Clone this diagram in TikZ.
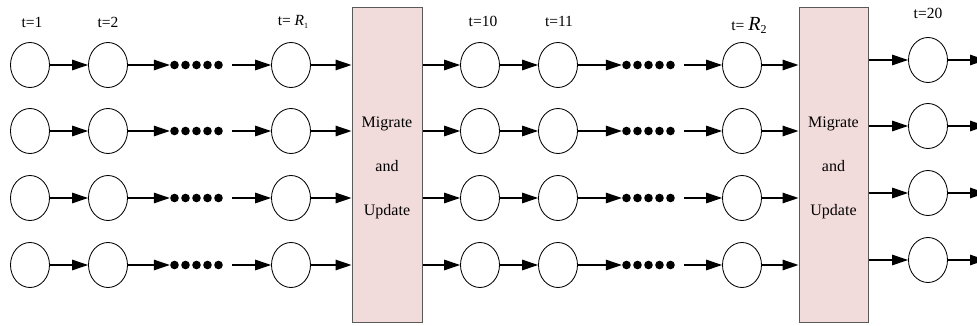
\documentclass[tikz,border=0pt]{standalone}
\usepackage{fontspec}
\setmainfont{Liberation Serif}
\usetikzlibrary{shapes.geometric,arrows.meta}
\definecolor{boxfill}{HTML}{F2DCDB}
\definecolor{boxline}{HTML}{595959}
\begin{document}
\begin{tikzpicture}[x=1pt,y=-1pt,
  state/.style={ellipse,draw,line width=0.85pt,minimum width=39pt,minimum height=45pt,inner sep=0pt},
  arr/.style={line width=1.3pt,-{Triangle[length=16pt,width=10.5pt]}},
  dotrow/.style={minimum width=56pt,minimum height=10pt,inner sep=0pt,
    path picture={\foreach \k in {0,...,4}
      \fill (path picture bounding box.west) ++(4.5pt+\k*11pt,0pt) circle (4.3pt);}},
  mubox/.style={draw=boxline,fill=boxfill,line width=1pt,minimum width=70pt,minimum height=314pt,inner sep=0pt},
  boxtext/.style={align=center,inner sep=0pt,font=\fontsize{16}{44}\selectfont},
  tlab/.style={font=\fontsize{15.5}{18}\selectfont,inner sep=0pt}]
\useasboundingbox (0,0) rectangle (977,326);

% migrate-and-update boxes
\node[mubox] (box1) at (387,165) {};
\node[mubox,minimum width=69pt] (box2) at (833.5,165) {};
\node[boxtext,yshift=-3pt] (u1) at (box1.center) {Migrate\\and\\Update};
\node[boxtext,yshift=-3pt] (u2) at (box2.center) {Migrate\\and\\Update};

% four parallel chains
\foreach \r/\y in {1/65,2/131,3/198,4/265}{
  \node[state] (a\r) at (30,\y) {};
  \node[state] (b\r) at (108,\y) {};
  \node[dotrow] (d\r) at (198,\y) {};
  \node[state] (e\r) at (291,\y) {};
  \node[state] (f\r) at (480,\y) {};
  \node[state] (g\r) at (558,\y) {};
  \node[dotrow] (h\r) at (650,\y) {};
  \node[state] (k\r) at (742,\y) {};
  \draw[arr] (a\r) -- (b\r);
  \draw[arr] (b\r) -- (d\r.west);
  \draw[arr,shorten <=6pt] (d\r.east) -- (e\r);
  \draw[arr] (e\r) -- (e\r -| box1.west);
  \draw[arr] (f\r -| box1.east) -- (f\r);
  \draw[arr] (f\r) -- (g\r);
  \draw[arr] (g\r) -- (h\r.west);
  \draw[arr,shorten <=6pt] (h\r.east) -- (k\r);
  \draw[arr] (k\r) -- (k\r -| box2.west);
}
\foreach \r/\y in {1/60,2/126,3/193,4/260}{
  \node[state] (m\r) at (928,\y) {};
  \coordinate (o\r) at (986,\y);
  \draw[arr] (m\r -| box2.east) -- (m\r);
  \draw[arr] (m\r) -- (o\r);
}

% time labels
\node[tlab] at (32,22) {t=1};
\node[tlab] at (108,22) {t=2};
\node[tlab] at (293,22) {t= \textit{R}\raisebox{-2.5pt}{\fontsize{8}{9}\selectfont 1}};
\node[tlab] at (483,21) {t=10};
\node[tlab] at (559,21) {t=11};
\node[tlab] at (749,25) {t= \fontsize{20}{22}\selectfont\textit{R}\raisebox{-3pt}{\fontsize{12}{13}\selectfont 2}};
\node[tlab] at (928,13) {t=20};
\end{tikzpicture}
\end{document}
